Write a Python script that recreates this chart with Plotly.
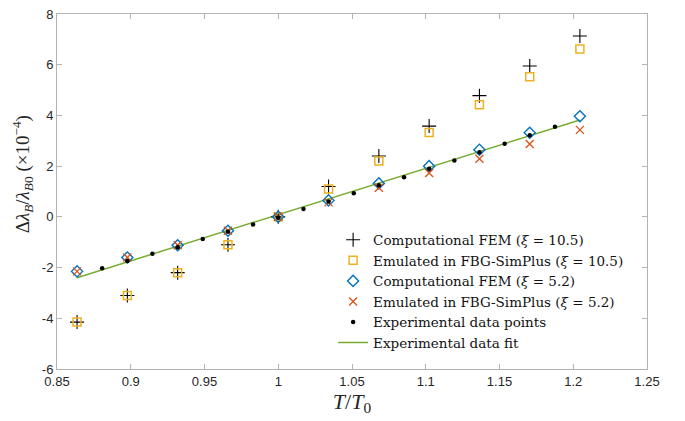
import plotly.graph_objects as go

# T/T0 values of the simulated points
x_sim = [0.8636, 0.8977, 0.9318, 0.9659, 1.0, 1.0341, 1.0682, 1.1023, 1.1364, 1.1705, 1.2045]
fem_105 = [-4.15, -3.1, -2.2, -1.1, 0.0, 1.2, 2.4, 3.58, 4.78, 5.95, 7.13]
emu_105 = [-4.15, -3.1, -2.2, -1.1, 0.0, 1.1, 2.2, 3.33, 4.42, 5.53, 6.62]
fem_52 = [-2.15, -1.6, -1.12, -0.55, 0.0, 0.65, 1.32, 2.0, 2.65, 3.32, 3.97]
emu_52 = [-2.15, -1.6, -1.12, -0.55, 0.0, 0.57, 1.15, 1.73, 2.29, 2.87, 3.43]

# experimental data points
x_exp = [0.8806, 0.8977, 0.9147, 0.9318, 0.9488, 0.9659, 0.9829, 1.0, 1.0171, 1.0341,
         1.0512, 1.0682, 1.0853, 1.1023, 1.1194, 1.1364, 1.1535, 1.1705, 1.1876]
y_exp = [-2.03, -1.74, -1.45, -1.2, -0.87, -0.59, -0.3, -0.04, 0.31, 0.61,
         0.93, 1.25, 1.56, 1.9, 2.22, 2.55, 2.88, 3.22, 3.55]

# linear fit endpoints
x_fit = [0.8636, 1.2045]
y_fit = [-2.4, 3.82]

x_ticks = [0.85, 0.9, 0.95, 1.0, 1.05, 1.1, 1.15, 1.2, 1.25]
x_ticklabels = ["0.85", "0.9", "0.95", "1", "1.05", "1.1", "1.15", "1.2", "1.25"]
y_ticks = [-6, -4, -2, 0, 2, 4, 6, 8]
y_ticklabels = ["-6", "-4", "-2", "0", "2", "4", "6", "8"]

names = [
    "Computational FEM (<i>ξ</i> = 10.5)",
    "Emulated in FBG-SimPlus (<i>ξ</i> = 10.5)",
    "Computational FEM (<i>ξ</i> = 5.2)",
    "Emulated in FBG-SimPlus (<i>ξ</i> = 5.2)",
    "Experimental data points",
    "Experimental data fit",
]
y_title = "Δ<i>λ</i><sub><i>B</i></sub>/<i>λ</i><sub><i>B</i>0</sub> (×10<sup>−4</sup>)"

fig = go.Figure()
fig.add_trace(go.Scatter(x=x_fit, y=y_fit, mode="lines", name=names[5], legendrank=6,
                         line=dict(color="#77AC30", width=1.5)))
fig.add_trace(go.Scatter(x=x_sim, y=fem_105, mode="markers", name=names[0], legendrank=1,
                         marker=dict(symbol="cross-thin-open", size=10, color="#000000",
                                     line=dict(width=1.1, color="#000000"))))
fig.add_trace(go.Scatter(x=x_sim, y=emu_105, mode="markers", name=names[1], legendrank=2,
                         marker=dict(symbol="square-open", size=8, color="#EDB120",
                                     line=dict(width=1.5, color="#EDB120"))))
fig.add_trace(go.Scatter(x=x_sim, y=fem_52, mode="markers", name=names[2], legendrank=3,
                         marker=dict(symbol="diamond-open", size=8.5, color="#0072BD",
                                     line=dict(width=1.4, color="#0072BD"))))
fig.add_trace(go.Scatter(x=x_sim, y=emu_52, mode="markers", name=names[3], legendrank=4,
                         marker=dict(symbol="x-thin-open", size=8, color="#D95319",
                                     line=dict(width=1.3, color="#D95319"))))
fig.add_trace(go.Scatter(x=x_exp, y=y_exp, mode="markers", name=names[4], legendrank=5,
                         marker=dict(symbol="circle", size=4.5, color="#000000")))

axis_common = dict(
    showline=True, linecolor="#b3b3b3", linewidth=1, mirror="ticks",
    ticks="inside", ticklen=5, tickcolor="#b3b3b3", tickwidth=1,
    showgrid=False, zeroline=False, automargin=False, ticklabeloverflow="allow",
    tickfont=dict(family="Liberation Sans, Arial, sans-serif", size=13, color="#262626"),
)

fig.update_xaxes(range=[0.85, 1.25], tickvals=x_ticks, ticktext=x_ticklabels,
                 title=dict(text="<i>T</i>/<i>T</i><sub>0</sub>", standoff=5,
                            font=dict(family="Liberation Serif, serif", size=22, color="#262626")),
                 **axis_common)
fig.update_yaxes(range=[-6, 8], tickvals=y_ticks, ticktext=y_ticklabels, **axis_common)

fig.add_annotation(text=y_title, textangle=-90, xref="paper", yref="paper",
                   x=-0.058, y=0.548, xanchor="center", yanchor="middle", showarrow=False,
                   font=dict(family="Liberation Serif, serif", size=19, color="#262626"))

fig.update_layout(
    width=677, height=413,
    margin=dict(l=49, r=38, t=6, b=52),
    plot_bgcolor="white", paper_bgcolor="white",
    legend=dict(x=0.468, y=0.407, xanchor="left", yanchor="top",
                bgcolor="rgba(255,255,255,0)", borderwidth=0,
                font=dict(family="DejaVu Serif, serif", size=13.5, color="#111111"),
                tracegroupgap=0, itemwidth=30),
    showlegend=True,
)

fig.write_html("out.html")
